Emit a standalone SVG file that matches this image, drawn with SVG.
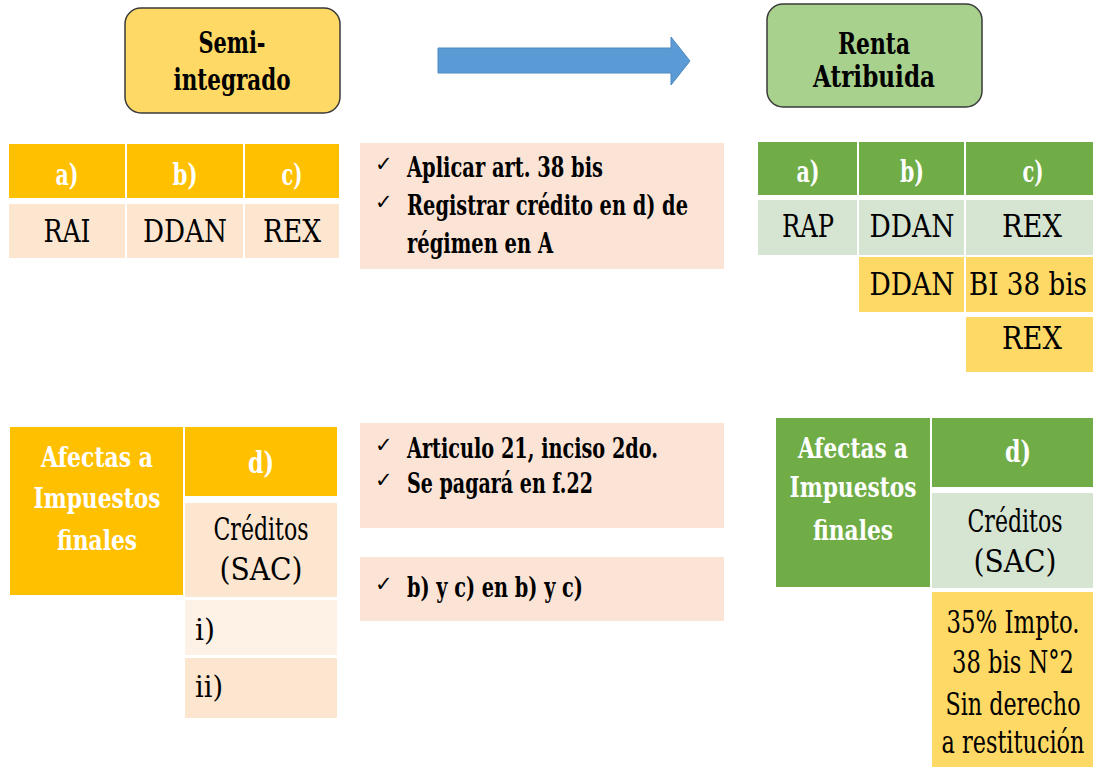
<svg xmlns="http://www.w3.org/2000/svg" width="1093" height="767" viewBox="0 0 1093 767">
<style>
text{font-family:"DejaVu Serif","Liberation Serif",serif}
.hd{font-weight:bold;fill:#fff;font-size:30px;text-anchor:middle}
.af{font-weight:bold;fill:#fff;font-size:28px;text-anchor:middle}
.tx{font-size:32px;fill:#000;text-anchor:middle}
.tl{font-size:30px;fill:#000}
.bl{font-weight:bold;font-size:28px;fill:#000}
.tt{font-weight:bold;font-size:30px;fill:#000;text-anchor:middle}
.ck{font-family:"DejaVu Sans",sans-serif;font-size:21px;fill:#000}
.or{fill:#FFC000}
.pe{fill:#FDE6D0}
.pl{fill:#FEF2E7}
.nt{fill:#FBE4D6}
.gr{fill:#70AD47}
.lg{fill:#D6E4D2}
.ye{fill:#FFD966}
</style>
<rect width="1093" height="767" fill="#fff"/>
<g id="connectors">
<polygon points="438,48 671,48 671,37 690,61 671,85 671,73 438,73" fill="#5B9BD5" stroke="#4F8AC0" stroke-width="1"/>
</g>
<g id="semi-integrado">
<rect x="125" y="8" width="215" height="105" rx="16" fill="#FFD966" stroke="#3a3a3a" stroke-width="1.5"/>
<text class="tt" transform="translate(232,53) scale(0.68,1)" textLength="98.5" lengthAdjust="spacingAndGlyphs">Semi-</text>
<text class="tt" transform="translate(232,90) scale(0.69,1)" textLength="169.6" lengthAdjust="spacingAndGlyphs">integrado</text>
</g>
<g id="renta-atribuida">
<rect x="767" y="4" width="215" height="103" rx="16" fill="#A9D18E" stroke="#3a3a3a" stroke-width="1.5"/>
<text class="tt" transform="translate(874,54) scale(0.7,1)" textLength="102.9" lengthAdjust="spacingAndGlyphs">Renta</text>
<text class="tt" transform="translate(874,87) scale(0.75,1)" textLength="162.7" lengthAdjust="spacingAndGlyphs">Atribuida</text>
</g>
<g id="tabla-semi">
<rect class="or" x="9" y="144" width="116" height="54"/>
<rect class="or" x="127" y="144" width="116" height="54"/>
<rect class="or" x="245" y="144" width="94" height="54"/>
<rect class="pe" x="9" y="204" width="116" height="54"/>
<rect class="pe" x="127" y="204" width="116" height="54"/>
<rect class="pe" x="245" y="204" width="94" height="54"/>
<text class="hd" transform="translate(67,185) scale(0.67,1)" textLength="34.3" lengthAdjust="spacingAndGlyphs">a)</text>
<text class="hd" transform="translate(185,185) scale(0.7,1)" textLength="35.7" lengthAdjust="spacingAndGlyphs">b)</text>
<text class="hd" transform="translate(292,185) scale(0.66,1)" textLength="31.8" lengthAdjust="spacingAndGlyphs">c)</text>
<text class="tx" transform="translate(67,242) scale(0.79,1)" textLength="59.5" lengthAdjust="spacingAndGlyphs">RAI</text>
<text class="tx" transform="translate(185,242) scale(0.83,1)" textLength="101.2" lengthAdjust="spacingAndGlyphs">DDAN</text>
<text class="tx" transform="translate(292,242) scale(0.8,1)" textLength="72.5" lengthAdjust="spacingAndGlyphs">REX</text>
</g>
<g id="nota-1">
<rect class="nt" x="360" y="143" width="364" height="126"/>
<text class="ck" x="375" y="171">✓</text>
<text class="bl" transform="translate(407,177) scale(0.68,1)" textLength="288.2" lengthAdjust="spacingAndGlyphs">Aplicar art. 38 bis</text>
<text class="ck" x="375" y="209">✓</text>
<text class="bl" transform="translate(407,215) scale(0.68,1)" textLength="413.2" lengthAdjust="spacingAndGlyphs">Registrar crédito en d) de</text>
<text class="bl" transform="translate(407,253) scale(0.68,1)" textLength="214.7" lengthAdjust="spacingAndGlyphs">régimen en A</text>
</g>
<g id="tabla-renta">
<rect class="gr" x="758" y="142" width="99" height="53"/>
<rect class="gr" x="859" y="142" width="105" height="53"/>
<rect class="gr" x="966" y="142" width="127" height="53"/>
<rect class="lg" x="758" y="200" width="99" height="55"/>
<rect class="lg" x="859" y="200" width="105" height="55"/>
<rect class="lg" x="966" y="200" width="127" height="55"/>
<rect class="ye" x="859" y="257" width="105" height="55"/>
<rect class="ye" x="966" y="257" width="127" height="55"/>
<rect class="ye" x="966" y="317" width="127" height="55"/>
<text class="hd" transform="translate(808,182) scale(0.67,1)" textLength="34.3" lengthAdjust="spacingAndGlyphs">a)</text>
<text class="hd" transform="translate(912,182) scale(0.7,1)" textLength="34.3" lengthAdjust="spacingAndGlyphs">b)</text>
<text class="hd" transform="translate(1033,182) scale(0.66,1)" textLength="31.8" lengthAdjust="spacingAndGlyphs">c)</text>
<text class="tx" transform="translate(808,237) scale(0.73,1)" textLength="71.2" lengthAdjust="spacingAndGlyphs">RAP</text>
<text class="tx" transform="translate(912,237) scale(0.83,1)" textLength="102.4" lengthAdjust="spacingAndGlyphs">DDAN</text>
<text class="tx" transform="translate(1032,237) scale(0.8,1)" textLength="75" lengthAdjust="spacingAndGlyphs">REX</text>
<text class="tx" transform="translate(912,295) scale(0.83,1)" textLength="102.4" lengthAdjust="spacingAndGlyphs">DDAN</text>
<text class="tx" transform="translate(1028,295) scale(0.83,1)" textLength="142.2" lengthAdjust="spacingAndGlyphs">BI 38 bis</text>
<text class="tx" transform="translate(1032,349) scale(0.8,1)" textLength="75" lengthAdjust="spacingAndGlyphs">REX</text>
</g>
<g id="afectas-semi">
<rect class="or" x="10" y="427" width="173" height="168"/>
<text class="af" transform="translate(97,467) scale(0.75,1)" textLength="149.3" lengthAdjust="spacingAndGlyphs">Afectas a</text>
<text class="af" transform="translate(97,508) scale(0.75,1)" textLength="169.3" lengthAdjust="spacingAndGlyphs">Impuestos</text>
<text class="af" transform="translate(97,550) scale(0.75,1)" textLength="106.7" lengthAdjust="spacingAndGlyphs">finales</text>
</g>
<g id="d-semi">
<rect class="or" x="185" y="427" width="152" height="69"/>
<text class="hd" transform="translate(261,473) scale(0.73,1)" textLength="35.6" lengthAdjust="spacingAndGlyphs">d)</text>
<rect class="pe" x="185" y="503" width="152" height="94"/>
<text class="tx" transform="translate(261,540) scale(0.69,1)" textLength="137.7" lengthAdjust="spacingAndGlyphs">Créditos</text>
<text class="tx" transform="translate(261,580) scale(0.88,1)" textLength="94.3" lengthAdjust="spacingAndGlyphs">(SAC)</text>
<rect class="pl" x="185" y="600" width="152" height="55"/>
<text class="tl" transform="translate(195,640) scale(0.94,1)" textLength="21.3" lengthAdjust="spacingAndGlyphs">i)</text>
<rect class="pe" x="185" y="658" width="152" height="60"/>
<text class="tl" transform="translate(195,697) scale(0.9,1)" textLength="31.1" lengthAdjust="spacingAndGlyphs">ii)</text>
</g>
<g id="nota-2">
<rect class="nt" x="360" y="423" width="364" height="105"/>
<text class="ck" x="375" y="452">✓</text>
<text class="bl" transform="translate(407,458) scale(0.68,1)" textLength="369.1" lengthAdjust="spacingAndGlyphs">Articulo 21, inciso 2do.</text>
<text class="ck" x="375" y="487">✓</text>
<text class="bl" transform="translate(407,493) scale(0.68,1)" textLength="273.5" lengthAdjust="spacingAndGlyphs">Se pagará en f.22</text>
</g>
<g id="nota-3">
<rect class="nt" x="360" y="557" width="364" height="64"/>
<text class="ck" x="375" y="591">✓</text>
<text class="bl" transform="translate(407,597) scale(0.68,1)" textLength="258.8" lengthAdjust="spacingAndGlyphs">b) y c) en b) y c)</text>
</g>
<g id="afectas-renta">
<rect class="gr" x="776" y="418" width="154" height="169"/>
<text class="af" transform="translate(853,458) scale(0.75,1)" textLength="146.7" lengthAdjust="spacingAndGlyphs">Afectas a</text>
<text class="af" transform="translate(853,497) scale(0.75,1)" textLength="169.3" lengthAdjust="spacingAndGlyphs">Impuestos</text>
<text class="af" transform="translate(853,540) scale(0.75,1)" textLength="106.7" lengthAdjust="spacingAndGlyphs">finales</text>
</g>
<g id="d-renta">
<rect class="gr" x="932" y="418" width="161" height="69"/>
<text class="hd" transform="translate(1018,462) scale(0.73,1)" textLength="35.6" lengthAdjust="spacingAndGlyphs">d)</text>
<rect class="lg" x="932" y="493" width="161" height="95"/>
<text class="tx" transform="translate(1015,532) scale(0.69,1)" textLength="137.7" lengthAdjust="spacingAndGlyphs">Créditos</text>
<text class="tx" transform="translate(1015,572) scale(0.88,1)" textLength="94.3" lengthAdjust="spacingAndGlyphs">(SAC)</text>
<rect class="ye" x="932" y="592" width="161" height="175"/>
<text class="tx" transform="translate(1013,633) scale(0.71,1)" textLength="187.3" lengthAdjust="spacingAndGlyphs">35% Impto.</text>
<text class="tx" transform="translate(1013,673) scale(0.71,1)" textLength="171.8" lengthAdjust="spacingAndGlyphs">38 bis N°2</text>
<text class="tx" transform="translate(1013,715) scale(0.69,1)" textLength="195.7" lengthAdjust="spacingAndGlyphs">Sin derecho</text>
<text class="tx" transform="translate(1013,753) scale(0.7,1)" textLength="204.3" lengthAdjust="spacingAndGlyphs">a restitución</text>
</g>
</svg>
